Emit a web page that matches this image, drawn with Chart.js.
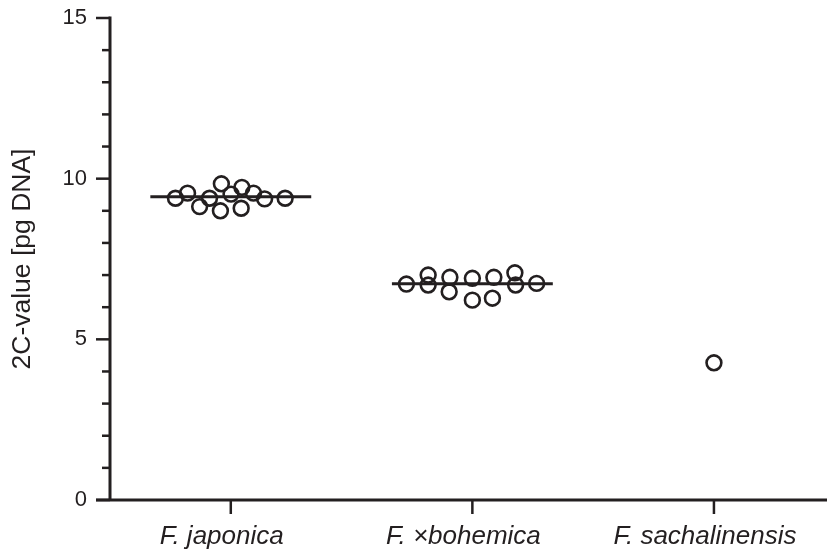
<!DOCTYPE html>
<html>
<head>
<meta charset="utf-8">
<script src="https://cdn.jsdelivr.net/npm/chart.js@4/dist/chart.umd.min.js"></script>
<style>
  html, body { margin: 0; padding: 0; background: #ffffff; }
  #wrap { width: 827px; height: 552px; }
</style>
</head>
<body>
<div id="wrap"><canvas id="c" width="827" height="552"></canvas></div>
<script>
// ---- data ----
const categories = ['F. japonica', 'F. \u00d7bohemica', 'F. sachalinensis'];
const japonicaValues = [9.39, 9.55, 9.13, 9.39, 9.84, 9.00, 9.52, 9.73, 9.08, 9.55, 9.37, 9.39];
const japonicaSpread = [-0.229, -0.179, -0.129, -0.088, -0.039, -0.043, 0.001, 0.046, 0.043, 0.094, 0.140, 0.225];
const bohemicaValues = [6.72, 7.00, 6.69, 6.93, 6.48, 6.90, 6.22, 6.93, 6.28, 7.07, 6.69, 6.74];
const bohemicaSpread = [-0.273, -0.183, -0.183, -0.093, -0.096, 0, 0, 0.089, 0.083, 0.176, 0.179, 0.266];
const sachalinensisValues = [4.27];
const sachalinensisSpread = [0];
const medianValues = [9.44, 6.73, null];
const yTickValues = [0, 5, 10, 15];
const yMinorTickValues = [1, 2, 3, 4, 6, 7, 8, 9, 11, 12, 13, 14];
const yTitle = '2C-value [pg DNA]';

// ---- styles ----
const INK = '#231f20';
const FONT = "'Liberation Sans', Arial, Helvetica, sans-serif";

function pts(catIndex, values, spread) {
  return values.map((v, i) => ({ x: catIndex + 1 + spread[i], y: v }));
}
const medianHalfWidth = 0.333;
const medianSets = [];
medianValues.forEach((m, i) => {
  if (m === null) return;
  medianSets.push({
    type: 'line',
    data: [{ x: i + 1 - medianHalfWidth, y: m }, { x: i + 1 + medianHalfWidth, y: m }],
    borderColor: INK, borderWidth: 3, pointRadius: 0, fill: false, showLine: true, order: 2
  });
});
function pointSet(data) {
  return {
    type: 'scatter', data,
    pointStyle: 'circle', pointRadius: 7.4, pointBorderWidth: 2.6,
    pointBorderColor: INK, pointBackgroundColor: 'rgba(0,0,0,0)',
    borderColor: INK, backgroundColor: 'rgba(0,0,0,0)', order: 1
  };
}

function zeroPad(s) { s.paddingTop = 0; s.paddingBottom = 0; s.paddingLeft = 0; s.paddingRight = 0; }

const axesPlugin = {
  id: 'customAxes',
  beforeDatasetsDraw(chart) {
    const { ctx, scales: { x, y } } = chart;
    const x0 = x.getPixelForValue(x.min);
    const yBottom = y.getPixelForValue(0);
    const yTop = y.getPixelForValue(15);
    ctx.save();
    ctx.strokeStyle = INK;
    ctx.lineCap = 'butt';
    ctx.lineWidth = 3;
    // y axis
    ctx.beginPath();
    ctx.moveTo(x0, yTop - 1.5);
    ctx.lineTo(x0, yBottom);
    ctx.stroke();
    // x axis (extends left past the y axis)
    ctx.beginPath();
    ctx.moveTo(x0 - 14, yBottom);
    ctx.lineTo(chart.width, yBottom);
    ctx.stroke();
    // major y ticks
    ctx.lineWidth = 2.5;
    yTickValues.forEach(v => {
      const py = y.getPixelForValue(v);
      ctx.beginPath(); ctx.moveTo(x0 - 14, py); ctx.lineTo(x0, py); ctx.stroke();
    });
    // minor y ticks
    yMinorTickValues.forEach(v => {
      const py = y.getPixelForValue(v);
      ctx.beginPath(); ctx.moveTo(x0 - 8, py); ctx.lineTo(x0, py); ctx.stroke();
    });
    // x ticks
    categories.forEach((c, i) => {
      const px = x.getPixelForValue(i + 1);
      ctx.beginPath(); ctx.moveTo(px, yBottom); ctx.lineTo(px, yBottom + 14); ctx.stroke();
    });
    ctx.restore();
  }
};

new Chart(document.getElementById('c'), {
  type: 'scatter',
  data: {
    datasets: [
      pointSet(pts(0, japonicaValues, japonicaSpread)),
      pointSet(pts(1, bohemicaValues, bohemicaSpread)),
      pointSet(pts(2, sachalinensisValues, sachalinensisSpread)),
      ...medianSets
    ]
  },
  options: {
    responsive: false,
    animation: false,
    clip: false,
    layout: { autoPadding: false, padding: { top: 18, right: 0, bottom: 0, left: 0 } },
    plugins: { legend: { display: false }, tooltip: { enabled: false } },
    scales: {
      x: {
        type: 'linear', min: 0.5, max: 3.468,
        grid: { display: false, drawTicks: false },
        border: { display: false },
        afterBuildTicks: (s) => { s.ticks = categories.map((c, i) => ({ value: i + 1 })); },
        afterFit: (s) => { s.height = 52; zeroPad(s); },
        ticks: {
          autoSkip: false, maxRotation: 0, padding: 21, labelOffset: -9, color: INK,
          font: { family: FONT, size: 26, style: 'italic', lineHeight: 1.2 },
          callback: (v, i) => categories[i]
        }
      },
      y: {
        type: 'linear', min: 0, max: 15,
        grid: { display: false, drawTicks: false },
        border: { display: false },
        afterBuildTicks: (s) => { s.ticks = yTickValues.map(v => ({ value: v })); },
        afterFit: (s) => { s.width = 110; zeroPad(s); },
        title: {
          display: true, text: yTitle, color: INK,
          font: { family: FONT, size: 26.5, lineHeight: 1.2 },
          padding: { top: 7, bottom: 0 }
        },
        ticks: {
          padding: 23, color: INK,
          font: { family: FONT, size: 22, lineHeight: 1.2 }
        }
      }
    }
  },
  plugins: [axesPlugin]
});
</script>
</body>
</html>
